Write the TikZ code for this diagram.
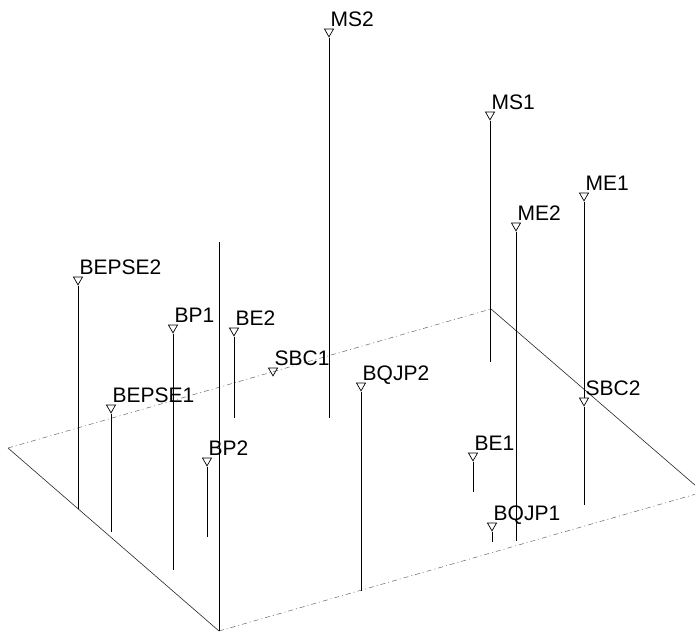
\documentclass[tikz,border=0pt]{standalone}
\usepackage{fontspec}
\setmainfont{Liberation Sans}
\usetikzlibrary{shapes.geometric}
\begin{document}
\begin{tikzpicture}[x=1pt,y=-1pt,
  tri/.style={draw, regular polygon, regular polygon sides=3, shape border rotate=180,
              minimum size=10.5pt, inner sep=0pt, line width=0.7pt},
  lab/.style={anchor=base west, inner sep=0pt, font=\fontsize{21}{23}\selectfont},
  pole/.style={line width=0.8pt},
  solidedge/.style={line width=0.6pt, black!85},
  dashedge/.style={line width=0.5pt, black!60, dash pattern=on 5pt off 3pt on 1pt off 3pt}]
\useasboundingbox (0,0) rectangle (695,632);
\clip (0,0) rectangle (695,632);
% plane
\coordinate (pL) at (8,448);
\coordinate (pB) at (219,631);
\coordinate (pR) at (703,492);
\coordinate (pT) at (491,309);
\draw[solidedge] (pL) -- (pB);
\draw[solidedge] (pT) -- (pR);
\draw[dashedge] (pL) -- (pT);
\draw[dashedge] (pB) -- (pR);
% markers (center = top + 2.5)
\foreach \n/\x/\y/\t in {ms2/329/29/MS2, ms1/490/112/MS1, me1/584/193/ME1, me2/516/223/ME2,
  sbc2/584/398/SBC2, be1/473/453/BE1, bqjp1/492/523/BQJP1, bqjp2/361/383/BQJP2,
  sbc1/273/368/SBC1, be2/234/328/BE2, bp1/173/325/BP1, bepsetwo/78/277/BEPSE2,
  bepseone/111/405/BEPSE1, bp2/207/458/BP2}{
  \node[tri] (\n) at (\x,\y+2.6) {};
  \node[lab] (\n l) at (\x+1.5,\y-3) {\t};
}
% bottom ends
\coordinate (ms2b) at (329,418);
\coordinate (ms1b) at (490,362);
\coordinate (me2b) at (516,541);
\coordinate (sbc2b) at (584,505);
\coordinate (be1b) at (473,492);
\coordinate (bqjp1b) at (492,542);
\coordinate (bqjp2b) at (361,591);
\coordinate (be2b) at (234,418);
\coordinate (bp1b) at (173,570);
\coordinate (bepsetwob) at (78,508.5);
\coordinate (bepseoneb) at (111,532);
\coordinate (bp2b) at (207,537);
\coordinate (tallt) at (219,242);
% poles
\foreach \n in {ms2, ms1, me2, sbc2, be1, bqjp1, bqjp2, be2, bp1, bepsetwo, bepseone, bp2}{
  \draw[pole] (\n.corner 1) -- (\n b);
}
\draw[pole] (me1.corner 1) -- (sbc2.north);
\draw[pole] (tallt) -- (pB);
\end{tikzpicture}
\end{document}
